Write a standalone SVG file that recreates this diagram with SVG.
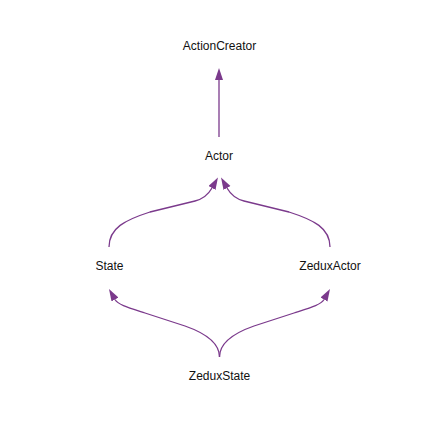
<svg xmlns="http://www.w3.org/2000/svg" width="440" height="426" viewBox="0 0 440 426">
<style>
.lbl{font-family:"Liberation Sans",Arial,sans-serif;font-size:12px;fill:#111;text-anchor:middle}
.edge{fill:none;stroke:#7b3a8c;stroke-width:1.3}
</style>
<defs>
<marker id="arr" markerUnits="userSpaceOnUse" markerWidth="13" markerHeight="9" refX="0" refY="4" orient="auto" viewBox="0 0 13 9">
<path d="M0,0 L12,4 L0,8 z" fill="#7b3a8c"/>
</marker>
</defs>
<rect width="440" height="426" fill="#fff"/>
<g id="connectors">
<path class="edge" d="M219,137 L219,80" marker-end="url(#arr)"/>
<path class="edge" d="M109,247 C109,228 125,220 150,212 L195,201 C203,199 208,195 212,188" marker-end="url(#arr)"/>
<path class="edge" d="M330,247 C330,228 314,220 289,212 L244,201 C236,199 231,195 227,188" marker-end="url(#arr)"/>
<path class="edge" d="M219.5,357 C219.5,343 205,333 185,326 L145,313 C128,307.5 118,304.7 115,299.5" marker-end="url(#arr)"/>
<path class="edge" d="M219.5,357 C219.5,343 234,333 254,326 L294,313 C311,307.5 321,304.7 324,299.5" marker-end="url(#arr)"/>
</g>
<g id="ActionCreator"><text class="lbl" x="219.5" y="50">ActionCreator</text></g>
<g id="Actor"><text class="lbl" x="219" y="160">Actor</text></g>
<g id="State"><text class="lbl" x="109.5" y="270">State</text></g>
<g id="ZeduxActor"><text class="lbl" x="330" y="270">ZeduxActor</text></g>
<g id="ZeduxState"><text class="lbl" x="219.5" y="380">ZeduxState</text></g>
</svg>
